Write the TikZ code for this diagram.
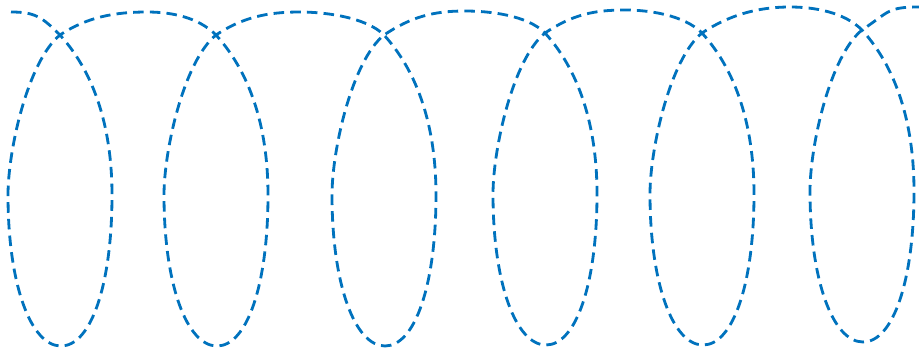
\documentclass[tikz,border=0pt]{standalone}
\usepackage{tikz}
\definecolor{coilblue}{RGB}{0,114,189}
\begin{document}
\begin{tikzpicture}[
  x=0.02cm, y=0.02cm,
  coil/.style={draw=coilblue, line width=1.6pt, dash pattern=on 6pt off 3.5pt}
]
  \useasboundingbox (0,0) rectangle (919,352);
  \foreach \cx/\cy/\by [count=\i] in {60/317/6, 216/317/6, 384/317/6, 545/319/7, 702/319/7, 862/322/10} {
    \coordinate (x\i) at (\cx,\cy);
    \coordinate (r\i) at (\cx+52,\by+151);
    \coordinate (b\i) at (\cx+1,\by);
    \coordinate (l\i) at (\cx-52,\by+151);
  }
  \foreach \px/\py [count=\i from 0] in {11/340, 147/340, 300/340, 465/341, 625/342, 790/345, 919/345}
    \coordinate (p\i) at (\px,\py);
  \draw[coil] (p0)
    \foreach \i [count=\h from 0] in {1,...,6} {
      .. controls +(24,0) and +(-18,18) .. (x\i)
      .. controls +(38,-42) and +(0,60) .. (r\i)
      .. controls +(0,-90) and +(30,0) .. (b\i)
      .. controls +(-30,0) and +(0,-90) .. (l\i)
      .. controls +(0,45) and +(-32,-26) .. (x\i)
      .. controls +(27,18) and +(-32,0) .. (p\i)
    };
\end{tikzpicture}
\end{document}
